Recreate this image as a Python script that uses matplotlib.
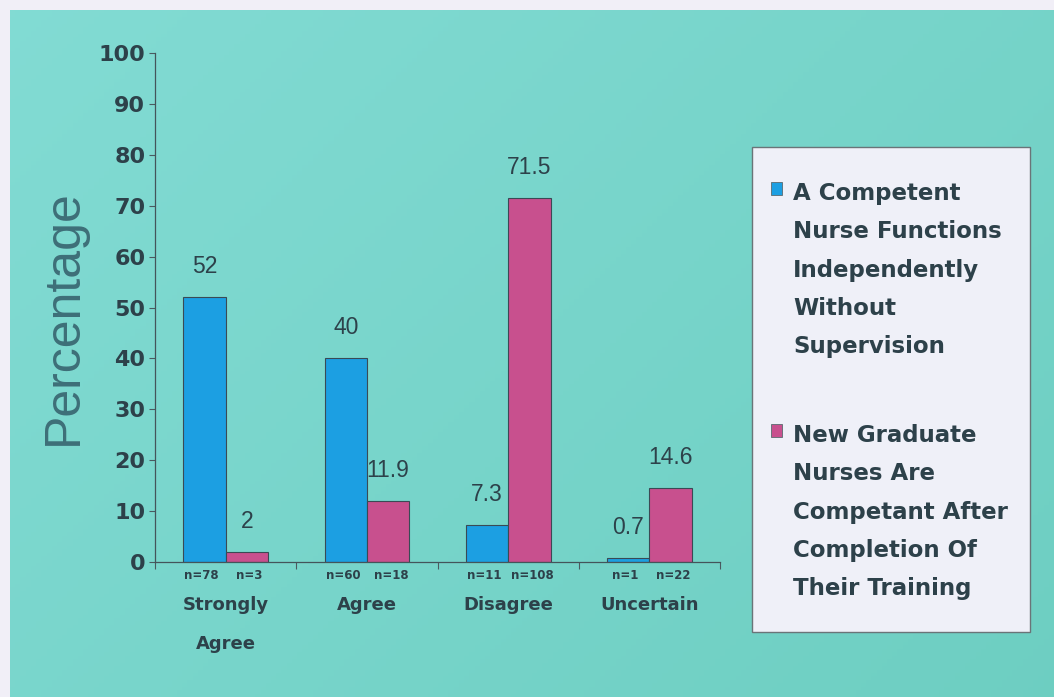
import matplotlib
matplotlib.use('Agg')

import numpy as np
import matplotlib.pyplot as plt
from matplotlib.patches import Rectangle

categories = ["Strongly\nAgree", "Agree", "Disagree", "Uncertain"]
competent_pct = [52, 40, 7.3, 0.7]
graduate_pct = [2, 11.9, 71.5, 14.6]
competent_n = [78, 60, 11, 1]
graduate_n = [3, 18, 108, 22]
series_names = ["A Competent\nNurse Functions\nIndependently\nWithout\nSupervision",
                "New Graduate\nNurses Are\nCompetant After\nCompletion Of\nTheir Training"]
yticks = [0, 10, 20, 30, 40, 50, 60, 70, 80, 90, 100]

BLUE = "#1c9fe2"
PINK = "#c8508e"
TEXT = "#2d414a"
BOLD = "DejaVu Sans"

plt.rcParams['font.family'] = "Liberation Sans"

fig = plt.figure(figsize=(10.54, 6.97), dpi=100)
fig.patch.set_facecolor("#f1eff7")

# teal backdrop with a soft diagonal gradient
bg = fig.add_axes([10 / 1054, 0, 1 - 10 / 1054, 1 - 10 / 697])
gx, gy = np.meshgrid(np.linspace(0, 1, 200), np.linspace(0, 1, 200))
g = 0.6 * gx + 0.4 * gy
top = np.array([0.51, 0.86, 0.83])
bot = np.array([0.43, 0.81, 0.76])
img = top[None, None, :] * (1 - g[..., None]) + bot[None, None, :] * g[..., None]
bg.imshow(img, aspect='auto', extent=[0, 1, 0, 1])
bg.axis('off')

ax = fig.add_axes([155 / 1054, 1 - 562 / 697, 565 / 1054, 509 / 697])
ax.patch.set_alpha(0)

x = np.arange(len(categories))
w = 0.3
b1 = ax.bar(x - w / 2, competent_pct, w, color=BLUE, edgecolor="#3a4a55", linewidth=0.8)
b2 = ax.bar(x + w / 2, graduate_pct, w, color=PINK, edgecolor="#3a4a55", linewidth=0.8)

for bars, vals in ((b1, competent_pct), (b2, graduate_pct)):
    for r, v in zip(bars, vals):
        ax.annotate(f"{v:g}", (r.get_x() + r.get_width() / 2, v), xytext=(0, 22),
                    textcoords='offset points', ha='center', va='center',
                    fontsize=16.5, color=TEXT)

ax.set_xlim(-0.5, len(categories) - 0.5)
ax.set_ylim(0, 100)
ax.set_yticks(yticks)
ax.set_yticklabels([str(t) for t in yticks], fontsize=16, fontweight='bold',
                   color=TEXT, family=BOLD)
ax.set_xticks(np.arange(len(categories) + 1) - 0.5)
ax.set_xticklabels([])
ax.tick_params(axis='y', length=4, width=0.8, color="#4a5a60", pad=3)
ax.tick_params(axis='x', length=5, width=0.8, color="#4a5a60")
for s in ("top", "right"):
    ax.spines[s].set_visible(False)
for s in ("left", "bottom"):
    ax.spines[s].set_color("#44545a")
    ax.spines[s].set_linewidth(0.9)

ax.set_ylabel("Percentage", fontsize=36, color="#3e6f78")
ax.yaxis.set_label_coords(-0.12, 0.481)

trans = ax.get_xaxis_transform()
for i, cat in enumerate(categories):
    ax.text(i - w / 2 - 0.02, -0.026, f"n={competent_n[i]}", transform=trans, ha='center',
            va='center', fontsize=8.5, fontweight='bold', color=TEXT, family=BOLD)
    ax.text(i + w / 2 + 0.02, -0.026, f"n={graduate_n[i]}", transform=trans, ha='center',
            va='center', fontsize=8.5, fontweight='bold', color=TEXT, family=BOLD)
    ax.text(i, -0.066, cat, transform=trans, ha='center', va='top', fontsize=13,
            fontweight='bold', color=TEXT, family=BOLD, linespacing=2.5)

# legend box drawn by hand so each square sits on the first line of its label
fig.patches.append(Rectangle((752 / 1054, 1 - 632 / 697), 278 / 1054, 485 / 697,
                             transform=fig.transFigure, facecolor="#eff0f8",
                             edgecolor="#6a7478", linewidth=1.0))
for name, color, ytop, sq in zip(series_names, (BLUE, PINK), (182, 424), (182, 424)):
    fig.patches.append(Rectangle((771 / 1054, 1 - (sq + 13) / 697), 11 / 1054, 13 / 697,
                                 transform=fig.transFigure, facecolor=color,
                                 edgecolor="#5a6a70", linewidth=0.6))
    fig.text(793 / 1054, 1 - ytop / 697, name, ha='left', va='top', fontsize=16.5,
             fontweight='bold', color=TEXT, family=BOLD, linespacing=1.85)

fig.savefig("out.png", dpi=100, facecolor=fig.get_facecolor())
